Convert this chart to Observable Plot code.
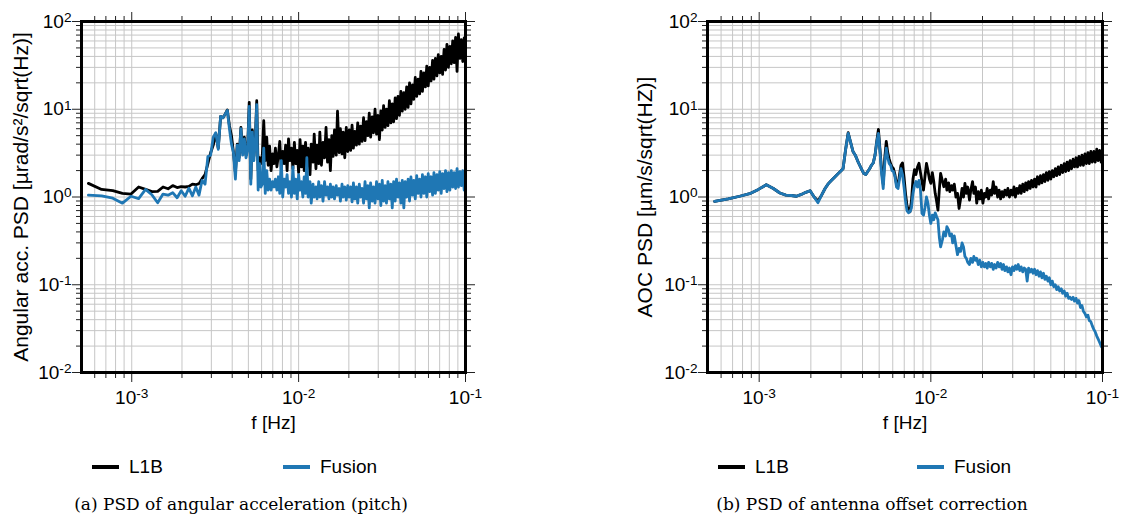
<!DOCTYPE html>
<html><head><meta charset="utf-8">
<script src="https://cdn.jsdelivr.net/npm/d3@7"></script>
<script src="https://cdn.jsdelivr.net/npm/@observablehq/plot@0.6"></script>
<style>
html,body{margin:0;padding:0;background:#fff;}
#page{position:relative;width:1141px;height:516px;overflow:hidden;font-family:"Liberation Sans",Arial,sans-serif;color:#000;}
.panel{position:absolute;top:0;}
.leg{position:absolute;top:456px;font-size:19px;line-height:22px;white-space:nowrap;}
.sw{position:absolute;top:465px;height:4px;}
.cap{position:absolute;top:493px;font-family:"DejaVu Serif",serif;font-size:17px;line-height:22px;white-space:nowrap;transform:translateX(-50%);}
</style></head><body><div id="page"></div>
<script>
// frequency bins in mHz
const freq = [
  0.55, 0.66, 0.77, 0.88, 0.99, 1.10, 1.21, 1.32, 1.43, 1.54,
  1.65, 1.76, 1.87, 1.98, 2.09, 2.20, 2.31, 2.42, 2.53, 2.64,
  2.75, 2.86, 2.97, 3.08, 3.19, 3.30, 3.41, 3.52, 3.63, 3.74,
  3.85, 3.96, 4.07, 4.18, 4.29, 4.40, 4.51, 4.62, 4.73, 4.84,
  4.95, 5.06, 5.17, 5.28, 5.39, 5.50, 5.61, 5.72, 5.83, 5.94,
  6.06, 6.18, 6.31, 6.44, 6.57, 6.70, 6.84, 6.98, 7.12, 7.26,
  7.41, 7.56, 7.71, 7.87, 8.03, 8.19, 8.36, 8.53, 8.70, 8.88,
  9.06, 9.24, 9.43, 9.62, 9.81, 10.0, 10.2, 10.4, 10.6, 10.8,
  11.0, 11.2, 11.4, 11.7, 11.9, 12.2, 12.4, 12.7, 12.9, 13.2,
  13.4, 13.7, 14.0, 14.3, 14.6, 14.9, 15.2, 15.5, 15.8, 16.1,
  16.4, 16.8, 17.1, 17.5, 17.8, 18.2, 18.5, 18.9, 19.3, 19.7,
  20.1, 20.5, 20.9, 21.3, 21.7, 22.2, 22.6, 23.1, 23.5, 24.0,
  24.5, 25.0, 25.5, 26.0, 26.5, 27.0, 27.6, 28.1, 28.7, 29.3,
  29.9, 30.5, 31.1, 31.7, 32.3, 33.0, 33.6, 34.3, 35.0, 35.7,
  36.4, 37.1, 37.9, 38.6, 39.4, 40.2, 41.0, 41.8, 42.7, 43.5,
  44.4, 45.3, 46.2, 47.1, 48.1, 49.0, 50.0, 51.0, 52.0, 53.1,
  54.1, 55.2, 56.3, 57.5, 58.6, 59.8, 61.0, 62.2, 63.5, 64.7,
  66.0, 67.4, 68.7, 70.1, 71.5, 72.9, 74.4, 75.9, 77.4, 79.0,
  80.6, 82.2, 83.8, 85.5, 87.2, 89.0, 90.7, 92.6, 94.4, 96.3,
  98.2, 100
];

// (a) angular acceleration PSD, L1B
const pitchL1B = [
  1.43, 1.22, 1.18, 1.10, 1.08, 1.30, 1.22, 1.15, 1.16, 1.30,
  1.24, 1.35, 1.28, 1.31, 1.30, 1.32, 1.40, 1.38, 1.42, 1.62,
  1.80, 2.4, 3.2, 3.9, 5.3, 3.6, 8.3, 8.0, 8.8, 9.8,
  6.5, 5.0, 3.2, 1.9, 4.0, 2.8, 6.2, 3.2, 4.8, 3.0,
  3.7, 12.0, 1.6, 5.8, 2.9, 4.5, 12.5, 2.0, 2.8, 2.4,
  3.0, 7.4, 2.6, 4.8, 2.3, 3.8, 2.0, 3.1, 2.4, 3.6,
  2.2, 3.0, 4.3, 2.1, 3.3, 2.4, 3.9, 2.0, 4.6, 2.6,
  3.6, 2.1, 4.2, 2.4, 3.4, 1.9, 4.5, 2.2, 3.8, 2.0,
  4.2, 2.3, 3.6, 1.8, 4.0, 2.5, 5.2, 2.1, 3.9, 2.4,
  5.5, 2.3, 4.2, 2.8, 6.2, 2.5, 4.5, 2.0, 5.0, 2.9,
  5.8, 3.0, 9.5, 3.2, 6.0, 3.1, 5.5, 2.8, 6.2, 3.3,
  5.8, 3.4, 6.6, 3.6, 5.6, 3.9, 7.0, 4.0, 6.4, 4.3,
  8.0, 4.4, 7.2, 5.0, 9.0, 4.8, 8.2, 5.4, 10.0, 5.2,
  8.5, 4.5, 9.6, 5.8, 11.0, 6.2, 10.0, 6.5, 12.5, 7.0,
  11.5, 7.2, 13.5, 7.8, 14.0, 8.5, 16.0, 9.5, 15.5, 10.0,
  18.0, 10.5, 20.0, 11.5, 19.0, 13.0, 23.0, 14.0, 22.0, 15.0,
  27.0, 16.0, 26.0, 18.0, 31.0, 18.5, 30.0, 21.0, 36.0, 22.0,
  38.0, 24.0, 42.0, 26.0, 40.0, 25.0, 48.0, 28.0, 55.0, 30.0,
  52.0, 33.0, 60.0, 34.0, 66.0, 27.0, 72.0, 38.0, 62.0, 35.0,
  65.0, 48.0
];

// (a) angular acceleration PSD, Fusion
const pitchFusion = [
  1.05, 1.03, 0.97, 0.85, 1.02, 0.96, 1.22, 1.06, 0.86, 1.08,
  1.05, 1.12, 0.98, 1.18, 1.02, 1.26, 1.03, 1.30, 1.05, 1.55,
  1.40, 2.9, 3.0, 4.8, 5.4, 3.5, 8.3, 8.0, 8.8, 9.7,
  6.0, 4.0, 3.2, 1.6, 3.9, 2.6, 6.0, 3.0, 4.6, 2.8,
  3.5, 10.8, 1.4, 5.5, 2.6, 4.2, 11.3, 1.2, 2.4, 1.3,
  1.4, 3.6, 1.1, 2.0, 1.2, 1.6, 1.2, 1.5, 1.3, 1.6,
  1.2, 1.7, 1.1, 2.6, 1.0, 1.6, 1.3, 1.8, 1.1, 1.5,
  1.0, 2.2, 1.1, 1.6, 0.95, 1.8, 1.2, 1.5, 1.0, 1.7,
  1.1, 2.8, 1.0, 1.5, 0.85, 1.4, 1.0, 1.3, 0.95, 1.5,
  1.0, 1.35, 0.9, 1.5, 1.05, 1.3, 0.95, 1.4, 1.0, 1.3,
  0.95, 1.35, 1.05, 1.25, 0.9, 1.4, 1.0, 1.3, 0.92, 1.35,
  1.0, 1.3, 0.88, 1.45, 0.95, 1.3, 0.85, 1.4, 1.0, 1.25,
  0.85, 1.5, 0.95, 1.35, 0.75, 1.45, 0.9, 1.3, 0.85, 1.5,
  0.95, 1.4, 0.8, 1.55, 0.9, 1.35, 0.85, 1.5, 0.95, 1.4,
  0.75, 1.5, 0.9, 1.6, 1.0, 1.45, 0.85, 1.55, 0.75, 1.5,
  1.0, 1.6, 0.9, 1.7, 1.05, 1.55, 0.95, 1.75, 1.1, 1.6,
  1.0, 1.8, 1.1, 1.7, 1.0, 1.85, 1.15, 1.7, 1.05, 1.9,
  1.1, 1.8, 1.2, 1.95, 1.1, 1.85, 1.25, 2.0, 1.15, 1.9,
  1.2, 2.0, 1.3, 1.9, 1.25, 2.1, 1.3, 1.95, 1.35, 2.0,
  1.2, 1.6
];

// (b) antenna offset correction PSD, L1B
const aocL1B = [
  0.89, 0.95, 1.02, 1.09, 1.22, 1.38, 1.25, 1.11, 1.05, 1.04,
  1.02, 1.07, 1.13, 1.18, 1.00, 0.90, 1.05, 1.25, 1.42, 1.55,
  1.68, 1.82, 1.95, 2.1, 3.5, 5.4, 4.2, 3.3, 3.0, 2.6,
  2.3, 2.05, 1.85, 1.80, 1.95, 2.1, 2.3, 2.45, 3.0, 4.3,
  5.9, 3.4, 2.0, 1.4, 2.8, 4.3, 3.2, 2.7, 2.4, 2.2,
  2.1, 1.8, 1.4, 1.35, 1.8, 2.3, 2.45, 1.7, 1.1, 0.8,
  0.7, 0.68, 0.9, 1.6, 2.05, 1.8, 2.2, 2.42, 1.9, 1.5,
  1.2, 1.7, 2.42, 2.0, 1.6, 1.43, 1.9, 1.5, 1.1, 0.9,
  0.71, 1.2, 1.86, 1.5, 1.31, 1.6, 1.2, 1.45, 1.15, 1.35,
  1.2, 1.4, 1.0, 1.1, 0.74, 0.95, 1.25, 1.0, 1.43, 1.1,
  1.3, 0.92, 1.2, 1.5, 1.1, 1.3, 0.85, 1.15, 0.95, 1.2,
  0.85, 1.1, 1.0, 1.25, 0.95, 1.2, 1.05, 1.5, 1.1, 1.3,
  1.0, 1.2, 0.95, 1.15, 1.0, 1.2, 1.05, 1.25, 1.0, 1.2,
  1.05, 1.3, 1.0, 1.25, 1.1, 1.35, 1.1, 1.4, 1.15, 1.45,
  1.2, 1.5, 1.25, 1.55, 1.3, 1.6, 1.3, 1.7, 1.4, 1.75,
  1.45, 1.8, 1.5, 1.9, 1.55, 1.95, 1.6, 2.0, 1.7, 2.1,
  1.75, 2.2, 1.8, 2.3, 1.9, 2.4, 1.95, 2.5, 2.0, 2.6,
  2.1, 2.7, 2.2, 2.8, 2.2, 2.9, 2.3, 3.0, 2.3, 3.1,
  2.4, 3.2, 2.4, 3.3, 2.5, 3.3, 2.5, 3.5, 2.6, 3.4,
  2.5, 3.2
];

// (b) antenna offset correction PSD, Fusion
const aocFusion = [
  0.89, 0.95, 1.02, 1.09, 1.22, 1.38, 1.25, 1.11, 1.05, 1.04,
  1.02, 1.07, 1.13, 1.18, 1.00, 0.86, 1.05, 1.25, 1.42, 1.55,
  1.68, 1.82, 1.95, 2.1, 3.5, 5.3, 4.2, 3.3, 3.0, 2.6,
  2.3, 2.05, 1.85, 1.80, 1.95, 2.1, 2.3, 2.45, 3.0, 4.2,
  5.3, 3.2, 1.8, 1.25, 2.4, 3.6, 2.8, 2.4, 2.3, 2.0,
  1.95, 1.7, 1.3, 1.25, 1.6, 2.1, 1.8, 1.3, 0.9, 0.7,
  0.66, 0.68, 0.75, 1.1, 1.35, 1.5, 1.3, 1.55, 1.2, 0.65,
  0.62, 0.75, 1.0, 0.85, 0.62, 0.5, 0.62, 0.55, 0.66, 0.6,
  0.55, 0.35, 0.27, 0.33, 0.40, 0.36, 0.46, 0.42, 0.36, 0.38,
  0.30, 0.36, 0.28, 0.22, 0.26, 0.24, 0.30, 0.27, 0.21, 0.20,
  0.18, 0.17, 0.20, 0.18, 0.21, 0.19, 0.20, 0.17, 0.19, 0.16,
  0.18, 0.16, 0.175, 0.155, 0.18, 0.16, 0.175, 0.15, 0.17, 0.155,
  0.18, 0.16, 0.175, 0.15, 0.17, 0.145, 0.16, 0.14, 0.155, 0.13,
  0.16, 0.145, 0.165, 0.15, 0.17, 0.145, 0.16, 0.14, 0.155, 0.15,
  0.11, 0.155, 0.14, 0.15, 0.135, 0.15, 0.13, 0.145, 0.125, 0.14,
  0.12, 0.135, 0.115, 0.125, 0.11, 0.12, 0.10, 0.11, 0.095, 0.10,
  0.088, 0.095, 0.085, 0.09, 0.08, 0.085, 0.074, 0.08, 0.07, 0.072,
  0.068, 0.072, 0.065, 0.07, 0.062, 0.066, 0.055, 0.058, 0.05, 0.047,
  0.043, 0.045, 0.039, 0.038, 0.034, 0.031, 0.029, 0.026, 0.024, 0.022,
  0.020, 0.019
];

const seriesNames = ["L1B", "Fusion"];
const seriesColors = ["#000000", "#1f77b4"];
const xMajorTicks = [0.001, 0.01, 0.1];
const xMinorTicks = [0.0006, 0.0007, 0.0008, 0.0009,
  0.002, 0.003, 0.004, 0.005, 0.006, 0.007, 0.008, 0.009,
  0.02, 0.03, 0.04, 0.05, 0.06, 0.07, 0.08, 0.09];
const yMajorTicks = [0.01, 0.1, 1, 10, 100];
const yMinorTicks = [0.02, 0.03, 0.04, 0.05, 0.06, 0.07, 0.08, 0.09,
  0.2, 0.3, 0.4, 0.5, 0.6, 0.7, 0.8, 0.9,
  2, 3, 4, 5, 6, 7, 8, 9,
  20, 30, 40, 50, 60, 70, 80, 90];
const xLabel = "f [Hz]";
const panels = [
  {ylabel: "Angular acc. PSD [µrad/s²/sqrt(Hz)]", caption: "(a) PSD of angular acceleration (pitch)", l1b: pitchL1B, fusion: pitchFusion},
  {ylabel: "AOC PSD [µm/s/sqrt(HZ)]", caption: "(b) PSD of antenna offset correction", l1b: aocL1B, fusion: aocFusion}
];

const layout = [
  {left: 0, width: 570, marginLeft: 81, marginRight: 105, ylabelDx: -60, legX: [92, 283], capX: 241},
  {left: 570, width: 571, marginLeft: 137, marginRight: 39, ylabelDx: -62, legX: [718, 917], capX: 872}
];

const page = document.getElementById("page");
const NS = "http://www.w3.org/2000/svg";
const fmt = d => `10^${Math.round(Math.log10(d))}`;

function superscripts(svg) {
  svg.querySelectorAll("text").forEach(t => {
    const m = /^10\^(-?\d+)$/.exec(t.textContent);
    if (!m) return;
    t.textContent = "";
    const base = document.createElementNS(NS, "tspan");
    base.textContent = "10";
    const sup = document.createElementNS(NS, "tspan");
    sup.textContent = m[1];
    sup.setAttribute("dy", "-0.42em");
    sup.setAttribute("font-size", "0.72em");
    t.append(base, sup);
  });
}

panels.forEach((p, k) => {
  const L = layout[k];
  const n = Math.min(freq.length, p.l1b.length, p.fusion.length);
  const rows = d3.range(n).map(i => ({f: freq[i] / 1000, l1b: p.l1b[i], fusion: p.fusion[i]}));
  const tk = {stroke: "#222", label: null};
  const svg = Plot.plot({
    width: L.width, height: 420,
    marginLeft: L.marginLeft, marginRight: L.marginRight, marginTop: 21, marginBottom: 48,
    style: {fontFamily: "'Liberation Sans', Arial, sans-serif", fontSize: "19px", background: "white", color: "black", overflow: "visible"},
    x: {type: "log", domain: [0.0005, 0.1]},
    y: {type: "log", domain: [0.01, 100]},
    marks: [
      Plot.gridX(xMinorTicks.concat(xMajorTicks), {stroke: "#c6c6c6", strokeOpacity: 1, strokeWidth: 1}),
      Plot.gridY(yMinorTicks.concat(yMajorTicks), {stroke: "#c6c6c6", strokeOpacity: 1, strokeWidth: 1}),
      Plot.line(rows, {x: "f", y: "l1b", stroke: seriesColors[0], strokeWidth: 2.8, clip: true}),
      Plot.line(rows, {x: "f", y: "fusion", stroke: seriesColors[1], strokeWidth: 2.8, clip: true}),
      Plot.axisX(xMajorTicks, {...tk, anchor: "bottom", tickSize: 10, tickPadding: 8, tickFormat: fmt, fontSize: 19}),
      Plot.axisX(xMinorTicks, {...tk, anchor: "bottom", tickSize: 6, fill: "none"}),
      Plot.axisX(xMajorTicks, {...tk, anchor: "top", tickSize: 10, fill: "none"}),
      Plot.axisX(xMinorTicks, {...tk, anchor: "top", tickSize: 6, fill: "none"}),
      Plot.axisY(yMajorTicks, {...tk, anchor: "left", tickSize: 9, tickPadding: 1, tickFormat: fmt, fontSize: 19}),
      Plot.axisY(yMinorTicks, {...tk, anchor: "left", tickSize: 5, fill: "none"}),
      Plot.axisY(yMajorTicks, {...tk, anchor: "right", tickSize: 9, fill: "none"}),
      Plot.axisY(yMinorTicks, {...tk, anchor: "right", tickSize: 5, fill: "none"}),
      Plot.frame({stroke: "black", strokeWidth: 3}),
      Plot.text([p.ylabel], {text: d => d, frameAnchor: "left", dx: L.ylabelDx, rotate: -90, textAnchor: "middle", lineAnchor: "middle", fontSize: 21}),
      Plot.text([xLabel], {text: d => d, frameAnchor: "bottom", dy: 50, textAnchor: "middle", lineAnchor: "middle", fontSize: 19})
    ]
  });
  superscripts(svg);
  const div = document.createElement("div");
  div.className = "panel";
  div.style.left = L.left + "px";
  div.appendChild(svg);
  page.appendChild(div);

  seriesNames.forEach((name, j) => {
    const sw = document.createElement("div");
    sw.className = "sw";
    sw.style.left = L.legX[j] + "px";
    sw.style.width = "27px";
    sw.style.background = seriesColors[j];
    page.appendChild(sw);
    const t = document.createElement("div");
    t.className = "leg";
    t.style.left = (L.legX[j] + 37) + "px";
    t.textContent = name;
    page.appendChild(t);
  });
  const cap = document.createElement("div");
  cap.className = "cap";
  cap.style.left = L.capX + "px";
  cap.textContent = p.caption;
  page.appendChild(cap);
});
</script></body></html>
